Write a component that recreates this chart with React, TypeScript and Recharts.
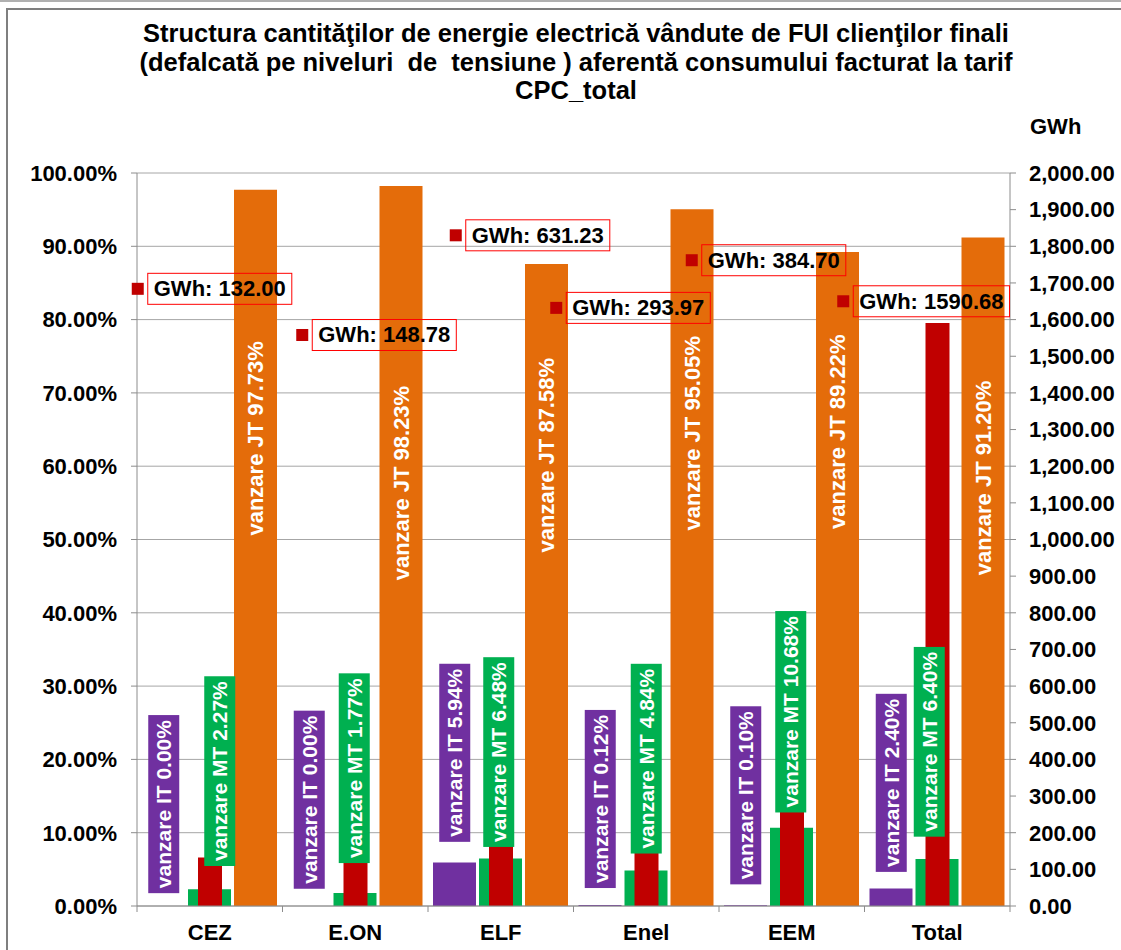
import { ComposedChart, Bar, Line, XAxis, YAxis, CartesianGrid, LabelList } from 'recharts'

const categories = ['CEZ', 'E.ON', 'ELF', 'Enel', 'EEM', 'Total']
const itShare = [0.0, 0.0, 5.94, 0.12, 0.1, 2.4]
const mtShare = [2.27, 1.77, 6.48, 4.84, 10.68, 6.4]
const jtShare = [97.73, 98.23, 87.58, 95.05, 89.22, 91.2]
const gwhSold = [132.0, 148.78, 631.23, 293.97, 384.7, 1590.68]

const pctTicks = [0, 10, 20, 30, 40, 50, 60, 70, 80, 90, 100]
const gwhTicks = [
  0, 100, 200, 300, 400, 500, 600, 700, 800, 900, 1000, 1100, 1200, 1300, 1400, 1500, 1600, 1700, 1800,
  1900, 2000,
]

// labels were dragged by hand in the original, so keep where they sit (in % of left axis)
const itLabelAt = [13.9, 14.5, 20.9, 14.6, 15.1, 16.8]
const mtLabelAt = [18.4, 18.8, 21.0, 20.1, 26.5, 22.4]
const jtLabelAt = [63.8, 57.7, 61.5, 64.5, 64.7, 58.4]
const gwhLabelAt = [84.2, 77.9, 91.5, 81.6, 88.1, 82.5]
const mtLabelDx = [10, -1, -2, 0, -1, -8]
const gwhLabelDx = [-78, -59, -51, -96, -106, -100]

const data = categories.map((name, i) => ({
  name,
  it: itShare[i],
  mt: mtShare[i],
  jt: jtShare[i],
  gwh: gwhSold[i],
  itAt: itLabelAt[i],
  mtAt: mtLabelAt[i],
  jtAt: jtLabelAt[i],
  gwhAt: gwhLabelAt[i],
}))

const FONT = '"Liberation Sans", Arial, sans-serif'
const PURPLE = '#7030A0'
const GREEN = '#00B050'
const ORANGE = '#E46C0A'
const DARKRED = '#C00000'
const AXIS = '#8c8c8c'

const W = 1121
const H = 950
const LEFT = 137
const RIGHT_W = 111
const TOP = 173
const BOTTOM_H = 44
const BAND = (W - LEFT - RIGHT_W) / categories.length
const BAR = 43
const GAP = 3

// Arial bold advance widths, per 1000 em
const ARIAL_BOLD: Record<string, number> = {
  v: 556, a: 556, n: 611, z: 500, r: 389, e: 556, ' ': 278, I: 278, T: 611, M: 833, J: 556,
  '.': 278, '%': 889, G: 778, W: 944, h: 611, ':': 333,
}
const textWidth = (s: string, size: number) =>
  (s.split('').reduce((w, c) => w + (ARIAL_BOLD[c] ?? 556), 0) * size) / 1000

const pos = (p: any) => ({
  x: (p.x ?? p.viewBox?.x) as number,
  y: (p.y ?? p.viewBox?.y) as number,
  i: p.index as number,
})

function VerticalBox({ cx, cy, text, fill }: { cx: number; cy: number; text: string; fill: string }) {
  const len = textWidth(text, 21) + 10
  return (
    <g>
      <rect x={cx - 15.5} y={cy - len / 2} width={31} height={len} fill={fill} />
      <text
        x={cx}
        y={cy}
        transform={`rotate(-90 ${cx} ${cy})`}
        textAnchor="middle"
        dominantBaseline="central"
        fill="#fff"
        fontSize={21}
        fontWeight="bold"
        fontFamily={FONT}
      >
        {text}
      </text>
    </g>
  )
}

const renderIt = (p: any) => {
  const { x, y, i } = pos(p)
  if (x == null || y == null) return null
  return <VerticalBox cx={x - BAR - GAP} cy={y} fill={PURPLE} text={`vanzare IT ${itShare[i].toFixed(2)}%`} />
}

const renderMt = (p: any) => {
  const { x, y, i } = pos(p)
  if (x == null || y == null) return null
  return <VerticalBox cx={x + mtLabelDx[i]} cy={y} fill={GREEN} text={`vanzare MT ${mtShare[i].toFixed(2)}%`} />
}

const renderJt = (p: any) => {
  const { x, y, i } = pos(p)
  if (x == null || y == null) return null
  const cx = x + BAR + GAP
  return (
    <text
      x={cx}
      y={y}
      transform={`rotate(-90 ${cx} ${y})`}
      textAnchor="middle"
      dominantBaseline="central"
      fill="#fff"
      fontSize={22}
      fontWeight="bold"
      fontFamily={FONT}
    >
      {`vanzare JT ${jtShare[i].toFixed(2)}%`}
    </text>
  )
}

const renderGwh = (p: any) => {
  const { x, y, i } = pos(p)
  if (x == null || y == null) return null
  const left = x + gwhLabelDx[i]
  const text = `GWh: ${gwhSold[i].toFixed(2)}`
  const tw = textWidth(text, 22)
  return (
    <g>
      <rect x={left} y={y - 6} width={12} height={12} fill={DARKRED} />
      <rect x={left + 16} y={y - 15.5} width={tw + 12} height={31} fill="none" stroke="#FF0000" strokeWidth={1} />
      <text
        x={left + 22}
        y={y}
        dominantBaseline="central"
        fill="#000"
        fontSize={22}
        fontWeight="bold"
        fontFamily={FONT}
      >
        {text}
      </text>
    </g>
  )
}

function CategoryTick(props: any) {
  const { x, y, payload, index } = props
  const base = y - 18
  const last = index === categories.length - 1
  return (
    <g>
      <line x1={x - BAND / 2} x2={x - BAND / 2} y1={base} y2={base + 6} stroke={AXIS} />
      {last && <line x1={x + BAND / 2} x2={x + BAND / 2} y1={base} y2={base + 6} stroke={AXIS} />}
      <text
        x={x}
        y={y}
        dy="0.71em"
        textAnchor="middle"
        fill="#000"
        fontSize={22}
        fontWeight="bold"
        fontFamily={FONT}
      >
        {payload.value}
      </text>
    </g>
  )
}

const tickStyle = { fill: '#000', fontSize: 22, fontWeight: 'bold', fontFamily: FONT }

export default function App() {
  return (
    <div style={{ position: 'absolute', left: 0, top: 0, width: W, height: H, background: '#fff', overflow: 'hidden' }}>
      <div style={{ position: 'absolute', left: 0, top: 0, width: W, height: 2, background: '#b0b0b0' }} />
      <div
        style={{
          position: 'absolute',
          left: 6,
          top: 8,
          width: W,
          height: H,
          borderLeft: '2px solid #7f7f7f',
          borderTop: '2px solid #7f7f7f',
        }}
      />
      <div style={{ position: 'absolute', left: 0, top: 0 }}>
        <ComposedChart
          width={W}
          height={H}
          data={data}
          margin={{ top: TOP, right: 0, bottom: 0, left: 0 }}
          barGap={GAP}
        >
          <CartesianGrid xAxisId="a" yAxisId="left" vertical={false} stroke="#a6a6a6" />
          <XAxis
            xAxisId="a"
            dataKey="name"
            height={BOTTOM_H}
            axisLine={{ stroke: AXIS }}
            tickLine={false}
            tickSize={6}
            tickMargin={12}
            tick={<CategoryTick />}
            interval={0}
          />
          <XAxis xAxisId="b" dataKey="name" hide />
          <YAxis
            yAxisId="left"
            width={LEFT}
            domain={[0, 100]}
            ticks={pctTicks}
            tickFormatter={(v: number) => `${v.toFixed(2)}%`}
            axisLine={{ stroke: AXIS }}
            tickLine={{ stroke: AXIS }}
            tickSize={6}
            tickMargin={14}
            tick={tickStyle}
            interval={0}
          />
          <YAxis
            yAxisId="right"
            orientation="right"
            width={RIGHT_W}
            domain={[0, 2000]}
            ticks={gwhTicks}
            tickFormatter={(v: number) =>
              v.toLocaleString('en-US', { minimumFractionDigits: 2, maximumFractionDigits: 2 })
            }
            axisLine={{ stroke: AXIS }}
            tickLine={{ stroke: AXIS }}
            tickSize={6}
            tickMargin={13}
            tick={tickStyle}
            interval={0}
          />
          <Bar xAxisId="a" yAxisId="left" dataKey="it" fill={PURPLE} barSize={BAR} isAnimationActive={false} />
          <Bar xAxisId="a" yAxisId="left" dataKey="mt" fill={GREEN} barSize={BAR} isAnimationActive={false} />
          <Bar xAxisId="a" yAxisId="left" dataKey="jt" fill={ORANGE} barSize={BAR} isAnimationActive={false} />
          <Bar xAxisId="b" yAxisId="right" dataKey="gwh" fill={DARKRED} barSize={24} isAnimationActive={false} />
          <Line xAxisId="a" yAxisId="left" dataKey="jtAt" stroke="none" dot={false} activeDot={false} isAnimationActive={false}>
            <LabelList dataKey="jtAt" content={renderJt} />
          </Line>
          <Line xAxisId="a" yAxisId="left" dataKey="itAt" stroke="none" dot={false} activeDot={false} isAnimationActive={false}>
            <LabelList dataKey="itAt" content={renderIt} />
          </Line>
          <Line xAxisId="a" yAxisId="left" dataKey="mtAt" stroke="none" dot={false} activeDot={false} isAnimationActive={false}>
            <LabelList dataKey="mtAt" content={renderMt} />
          </Line>
          <Line xAxisId="a" yAxisId="left" dataKey="gwhAt" stroke="none" dot={false} activeDot={false} isAnimationActive={false}>
            <LabelList dataKey="gwhAt" content={renderGwh} />
          </Line>
        </ComposedChart>
      </div>
      <div
        style={{
          position: 'absolute',
          left: 0,
          top: 19,
          width: 1152,
          textAlign: 'center',
          fontFamily: FONT,
          fontWeight: 'bold',
          fontSize: 25.5,
          lineHeight: '28.5px',
          color: '#000',
        }}
      >
        Structura cantităţilor de energie electrică vândute de FUI clienţilor finali
        <br />
        (defalcată pe niveluri&nbsp; de&nbsp; tensiune ) aferentă consumului facturat la tarif
        <br />
        CPC_total
      </div>
      <div
        style={{
          position: 'absolute',
          left: 1030,
          top: 113,
          fontFamily: FONT,
          fontWeight: 'bold',
          fontSize: 22,
          lineHeight: '28px',
          color: '#000',
        }}
      >
        GWh
      </div>
    </div>
  )
}
